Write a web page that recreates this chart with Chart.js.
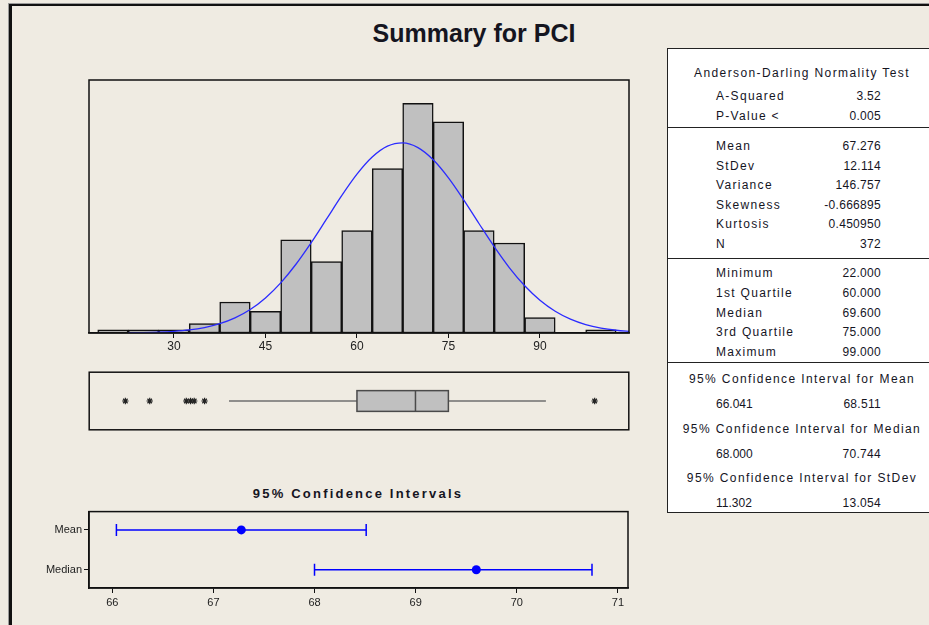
<!DOCTYPE html>
<html>
<head>
<meta charset="utf-8">
<script src="https://cdn.jsdelivr.net/npm/chart.js@4"></script>
<style>
  body { margin:0; width:929px; height:625px; overflow:hidden; position:relative; background:#efebe2;
         font-family:"Liberation Sans", Arial, sans-serif; color:#15151f; }
  .frame { position:absolute; left:9px; top:4px; width:940px; height:640px; border-left:3px solid #111; border-top:2px solid #111; box-shadow:-1px -1px 0 #9a9a9a; }
  canvas { position:absolute; }
  #title { position:absolute; left:274px; width:400px; top:19px; text-align:center; font-weight:bold; font-size:25px; }
  #ciTitle { position:absolute; left:208px; width:300px; top:486px; text-align:center; font-weight:bold; font-size:13px; letter-spacing:2.2px; }
  #stats { position:absolute; left:667px; top:48px; width:280px; height:465px; background:#fff; border:1.5px solid #222; box-sizing:border-box; }
  .sep { position:absolute; left:0; width:100%; height:0; border-top:1.5px solid #222; }
  .t { position:absolute; font-size:12px; line-height:14px; white-space:nowrap; }
  .lab { letter-spacing:1.3px; }
  .num { text-align:right; width:120px; letter-spacing:0.3px; }
  .head { width:270px; text-align:center; letter-spacing:1.4px; }
</style>
</head>
<body>
<div class="frame"></div>
<div id="title">Summary for PCI</div>
<canvas id="hist" width="550" height="280" style="left:84px; top:75px;"></canvas>
<canvas id="box" width="550" height="68" style="left:84px; top:367px;"></canvas>
<div id="ciTitle">95% Confidence Intervals</div>
<canvas id="ci" width="614" height="107" style="left:24px; top:503px;"></canvas>
<div id="stats"></div>
<script>
// histogram: bin midpoints (width 5) and counts
var binMids = [20, 25, 30, 35, 40, 45, 50, 55, 60, 65, 70, 75, 80, 85, 90, 95, 100];
var binCounts = [1, 1, 1, 3, 10, 7, 30, 23, 33, 53, 74, 68, 33, 29, 5, 0, 1];
var histTicks = [30, 45, 60, 75, 90];

// fitted normal curve
var curveX = [22.5, 25, 27.5, 30, 32.5, 35, 37.5, 40, 42.5, 45, 47.5, 50, 52.5, 55, 57.5, 60, 62.5, 65,
              67.5, 70, 72.5, 75, 77.5, 80, 82.5, 85, 87.5, 90, 92.5, 95, 97.5, 100, 102.5, 105];
var curveY = [0.07, 0.14, 0.28, 0.54, 0.99, 1.76, 2.99, 4.86, 7.57, 11.3, 16.16, 22.15, 29.11, 36.66, 44.23, 51.15, 56.67, 60.18,
              61.24, 59.72, 55.81, 49.98, 42.89, 35.28, 27.81, 21.0, 15.2, 10.55, 7.01, 4.47, 2.72, 1.59, 0.89, 0.48];

// boxplot
var boxQuartiles = [60.0, 69.6, 75.0];
var boxWhiskers = [39, 91];
var outliers = [22, 26, 32, 32.7, 33.3, 35, 99];

// confidence intervals
var ciLabels = ['Mean', 'Median'];
var ciEstimate = [67.276, 69.6];
var ciLower = [66.041, 68.0];
var ciUpper = [68.511, 70.744];
var ciTicks = [66, 67, 68, 69, 70, 71];

// stats table
var adRows = [['A-Squared', '3.52'], ['P-Value <', '0.005']];
var momentRows = [['Mean', '67.276'], ['StDev', '12.114'], ['Variance', '146.757'], ['Skewness', '-0.666895'], ['Kurtosis', '0.450950'], ['N', '372']];
var quantRows = [['Minimum', '22.000'], ['1st Quartile', '60.000'], ['Median', '69.600'], ['3rd Quartile', '75.000'], ['Maximum', '99.000']];
var ciRows = [['95% Confidence Interval for Mean', '66.041', '68.511'],
              ['95% Confidence Interval for Median', '68.000', '70.744'],
              ['95% Confidence Interval for StDev', '11.302', '13.054']];

var xMin = 16.07, xMax = 104.6;
var tickFont = { family: '"Liberation Sans", Arial, sans-serif', size: 12 };

var framePlugin = {
  id: 'frame',
  afterDraw: function (chart) {
    var a = chart.chartArea, ctx = chart.ctx;
    ctx.save();
    ctx.strokeStyle = '#111';
    ctx.lineWidth = 1.5;
    ctx.strokeRect(a.left, a.top, a.right - a.left, a.bottom - a.top);
    ctx.restore();
  }
};

function setTicks(list) {
  return function (scale) { scale.ticks = list.map(function (v) { return { value: v }; }); };
}

var common = {
  responsive: false,
  animation: false,
  plugins: { legend: { display: false }, tooltip: { enabled: false } }
};

// histogram + normal fit
new Chart(document.getElementById('hist'), {
  type: 'bar',
  data: {
    datasets: [{
      type: 'line',
      data: curveX.map(function (x, i) { return { x: x, y: curveY[i] }; }),
      borderColor: '#2b2bff',
      borderWidth: 1.3,
      pointRadius: 0,
      cubicInterpolationMode: 'monotone'
    }, {
      type: 'bar',
      data: binMids.map(function (x, i) { return { x: x, y: binCounts[i] }; }),
      backgroundColor: '#c0c0c0',
      borderColor: '#111',
      borderWidth: 1.5,
      borderSkipped: false,
      barPercentage: 1,
      categoryPercentage: 1
    }]
  },
  options: Object.assign({}, common, {
    layout: { padding: { left: 5, right: 5, top: 5, bottom: 0 } },
    scales: {
      x: {
        type: 'linear', min: xMin, max: xMax, offset: false,
        afterBuildTicks: setTicks(histTicks),
        afterFit: function (s) { s.height = 22; },
        grid: { drawOnChartArea: false, offset: false, color: '#111', tickLength: 5 },
        border: { color: '#111', width: 1.5 },
        ticks: { font: tickFont, color: '#222', padding: 1 }
      },
      y: { display: false, min: 0, max: 81.5 }
    }
  }),
  plugins: [framePlugin]
});

// boxplot
var boxPlugin = {
  id: 'boxplot',
  beforeDatasetsDraw: function (chart) {
    var ctx = chart.ctx, x = chart.scales.x, y = chart.scales.y;
    var yc = y.getPixelForValue(0), yt = y.getPixelForValue(0.36), yb = y.getPixelForValue(-0.36);
    var l = x.getPixelForValue(boxQuartiles[0]), m = x.getPixelForValue(boxQuartiles[1]), r = x.getPixelForValue(boxQuartiles[2]);
    ctx.save();
    ctx.strokeStyle = '#707070';
    ctx.lineWidth = 1.5;
    ctx.beginPath();
    ctx.moveTo(x.getPixelForValue(boxWhiskers[0]), yc); ctx.lineTo(l, yc);
    ctx.moveTo(r, yc); ctx.lineTo(x.getPixelForValue(boxWhiskers[1]), yc);
    ctx.stroke();
    ctx.fillStyle = '#c0c0c0';
    ctx.fillRect(l, yt, r - l, yb - yt);
    ctx.strokeStyle = '#4a4a4a';
    ctx.strokeRect(l, yt, r - l, yb - yt);
    ctx.beginPath();
    ctx.moveTo(m, yt); ctx.lineTo(m, yb);
    ctx.stroke();
    ctx.restore();
  }
};

new Chart(document.getElementById('box'), {
  type: 'scatter',
  data: {
    datasets: [{
      data: outliers.map(function (v) { return { x: v, y: 0 }; }),
      pointStyle: 'star',
      pointRadius: 3.2,
      borderColor: '#222',
      borderWidth: 1.2
    }]
  },
  options: Object.assign({}, common, {
    layout: { padding: 5 },
    scales: {
      x: { display: false, type: 'linear', min: xMin, max: xMax },
      y: { display: false, min: -1, max: 1 }
    }
  }),
  plugins: [boxPlugin, framePlugin]
});

// confidence interval plot (Mean at 2, Median at 1)
var ciDatasets = ciLabels.map(function (lab, i) {
  var yv = ciLabels.length - i;
  return {
    data: [{ x: ciLower[i], y: yv }, { x: ciUpper[i], y: yv }],
    showLine: true,
    borderColor: '#0000ff',
    borderWidth: 1.5,
    pointStyle: 'line',
    rotation: 90,
    pointRadius: 6,
    pointBorderWidth: 1.5,
    pointBorderColor: '#0000ff'
  };
});
ciDatasets.unshift({
  data: ciEstimate.map(function (v, i) { return { x: v, y: ciLabels.length - i }; }),
  pointStyle: 'circle',
  pointRadius: 4.5,
  backgroundColor: '#0000ff',
  borderColor: '#0000ff',
  borderWidth: 0
});

new Chart(document.getElementById('ci'), {
  type: 'scatter',
  data: { datasets: ciDatasets },
  options: Object.assign({}, common, {
    layout: { padding: { left: 5, right: 10, top: 5, bottom: 0 } },
    scales: {
      x: {
        type: 'linear', min: 65.77, max: 71.1,
        afterBuildTicks: setTicks(ciTicks),
        afterFit: function (s) { s.height = 22; },
        grid: { drawOnChartArea: false, color: '#111', tickLength: 5 },
        border: { color: '#111', width: 1.5 },
        ticks: { font: { family: tickFont.family, size: 11 }, color: '#222', padding: 3 }
      },
      y: {
        min: 0.54, max: 2.46,
        afterBuildTicks: setTicks([1, 2]),
        afterFit: function (s) { s.width = 60; },
        grid: { drawOnChartArea: false, color: '#111', tickLength: 5 },
        border: { color: '#111', width: 1.5 },
        ticks: {
          font: { family: tickFont.family, size: 11 }, color: '#222', padding: 2,
          callback: function (v) { return ciLabels[ciLabels.length - v]; }
        }
      }
    }
  }),
  plugins: [framePlugin]
});

// stats table text
var stats = document.getElementById('stats');
function put(cls, text, left, cy) {
  var d = document.createElement('div');
  d.className = 't ' + cls;
  d.textContent = text;
  d.style.left = left + 'px';
  d.style.top = (cy - 48 - 7) + 'px';
  stats.appendChild(d);
}
function sep(y) {
  var d = document.createElement('div');
  d.className = 'sep';
  d.style.top = (y - 48) + 'px';
  stats.appendChild(d);
}
put('head', 'Anderson-Darling Normality Test', -1, 72);
adRows.forEach(function (r, i) { put('lab', r[0], 48, 95 + i * 20); put('num', r[1], 93, 95 + i * 20); });
sep(126);
momentRows.forEach(function (r, i) { put('lab', r[0], 48, 145 + i * 19.6); put('num', r[1], 93, 145 + i * 19.6); });
sep(257);
quantRows.forEach(function (r, i) { put('lab', r[0], 48, 272 + i * 19.8); put('num', r[1], 93, 272 + i * 19.8); });
sep(361);
ciRows.forEach(function (r, i) {
  put('head', r[0], -1, 378 + i * 49.5);
  put('', r[1], 48, 403 + i * 49.5);
  put('num', r[2], 93, 403 + i * 49.5);
});
</script>
</body>
</html>
